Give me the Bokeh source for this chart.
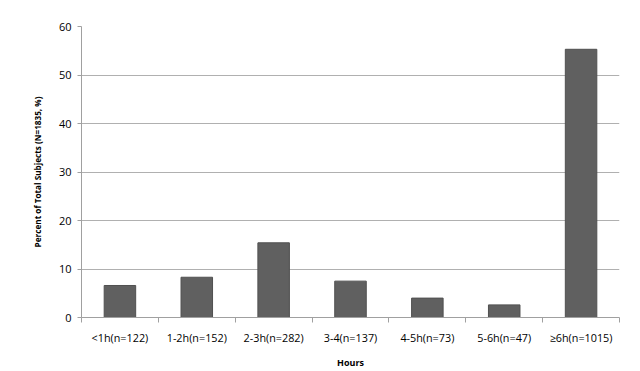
from bokeh.plotting import figure
from bokeh.models import ColumnDataSource, Range1d, FixedTicker
from bokeh.embed import file_html
from bokeh.resources import INLINE

categories = ["<1h(n=122)", "1-2h(n=152)", "2-3h(n=282)", "3-4(n=137)",
              "4-5h(n=73)", "5-6h(n=47)", "\u22656h(n=1015)"]
percent = [6.6, 8.3, 15.4, 7.5, 4.0, 2.6, 55.3]
y_ticks = [0, 10, 20, 30, 40, 50, 60]

xs = [i + 0.5 for i in range(len(categories))]
src = ColumnDataSource(dict(x=xs, top=percent, cat=categories))

p = figure(width=640, height=371, output_backend="svg", toolbar_location=None,
           x_range=Range1d(0, len(categories)), y_range=Range1d(0, 60),
           min_border_left=81, min_border_right=21, min_border_top=26,
           min_border_bottom=53)
p.outline_line_color = None
p.background_fill_color = "white"

p.vbar(x="x", top="top", width=0.41, source=src, fill_color="#606060",
       line_color="#505050", line_width=1)

# x axis
xa = p.xaxis[0]
xa.ticker = FixedTicker(ticks=xs, minor_ticks=list(range(len(categories) + 1)))
xa.major_label_overrides = {x: c for x, c in zip(xs, categories)}
xa.major_tick_line_color = None
xa.minor_tick_in = 0
xa.minor_tick_out = 5
xa.minor_tick_line_color = "#a0a0a0"
xa.axis_line_color = "#a0a0a0"
xa.major_label_text_font = "Open Sans"
xa.major_label_text_font_size = "10.8px"
xa.major_label_text_color = "#000000"
xa.major_label_standoff = 6
xa.axis_label = "Hours"
xa.axis_label_text_font = "Open Sans"
xa.axis_label_text_font_style = "bold"
xa.axis_label_text_font_size = "9px"
xa.axis_label_text_color = "#000000"
xa.axis_label_standoff = 8

# y axis
ya = p.yaxis[0]
ya.ticker = FixedTicker(ticks=y_ticks)
ya.minor_tick_line_color = None
ya.major_tick_in = 0
ya.major_tick_out = 4
ya.major_tick_line_color = "#a0a0a0"
ya.axis_line_color = "#a0a0a0"
ya.major_label_text_font = "Open Sans"
ya.major_label_text_font_size = "11px"
ya.major_label_text_color = "#000000"
ya.major_label_standoff = 6
ya.axis_label = "Percent of Total Subjects (N=1835, %)"
ya.axis_label_text_font = "Open Sans"
ya.axis_label_text_font_style = "bold"
ya.axis_label_text_font_size = "8.2px"
ya.axis_label_text_color = "#000000"
ya.axis_label_standoff = 13

p.xgrid.grid_line_color = None
p.ygrid.grid_line_color = "#b0b0b0"
p.ygrid.grid_line_width = 1

open("out.html", "w").write(file_html(p, INLINE))
